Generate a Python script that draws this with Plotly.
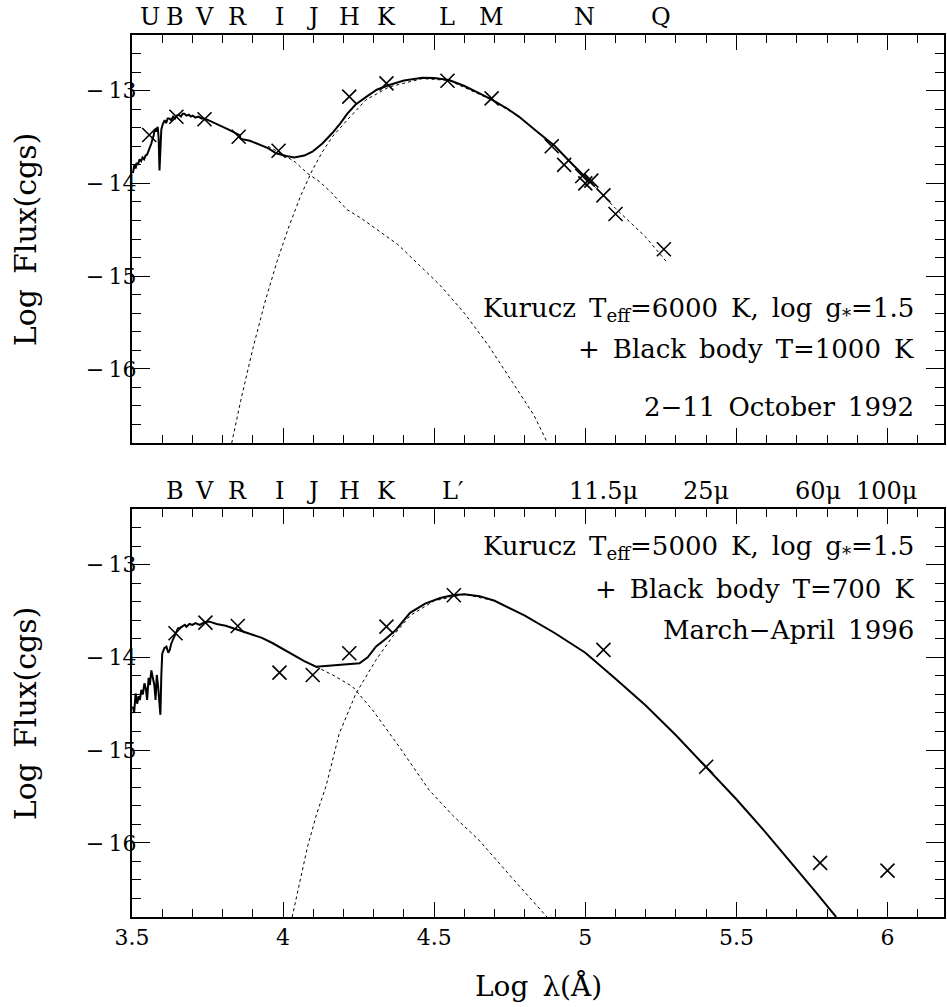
import plotly.graph_objects as go

# ---------------- data ----------------
# Top panel: 2-11 October 1992
top_obs_x = [3.557, 3.647, 3.740, 3.853, 3.985, 4.219, 4.342, 4.544, 4.690,
             4.889, 4.93, 4.99, 5.0, 5.02, 5.06, 5.1, 5.26]
top_obs_y = [-13.478, -13.281, -13.309, -13.497, -13.648, -13.065, -12.921,
             -12.893, -13.083, -13.6, -13.8, -13.92, -14.0, -13.97, -14.13,
             -14.33, -14.71]

top_tot_x = [3.503, 3.508, 3.512, 3.515, 3.52, 3.525, 3.53, 3.535, 3.54, 3.545,
             3.55, 3.555, 3.56, 3.564, 3.568, 3.572, 3.575, 3.58, 3.585, 3.588,
             3.591, 3.594, 3.597, 3.602, 3.608, 3.613, 3.618, 3.624, 3.63, 3.636,
             3.642, 3.647, 3.655, 3.662, 3.668, 3.674, 3.68, 3.688, 3.695, 3.701,
             3.71, 3.72, 3.73, 3.74, 3.76, 3.79, 3.82, 3.856, 3.86, 3.89, 3.922,
             3.95, 3.977, 4.01, 4.037, 4.07, 4.097, 4.13, 4.163, 4.19, 4.212,
             4.24, 4.274, 4.31, 4.351, 4.4, 4.461, 4.5, 4.549, 4.6, 4.65, 4.692,
             4.74, 4.78, 4.84, 4.9, 4.95, 5.0, 5.03]
top_tot_y = [-13.89, -13.8, -13.84, -13.78, -13.8, -13.74, -13.76, -13.72, -13.74, -13.7,
             -13.69, -13.65, -13.6, -13.57, -13.52, -13.48, -13.42, -13.44, -13.39, -13.5,
             -13.86, -13.6, -13.42, -13.36, -13.32, -13.35, -13.3, -13.3, -13.32, -13.28,
             -13.3, -13.27, -13.26, -13.28, -13.25, -13.25, -13.27, -13.26, -13.28, -13.27,
             -13.29, -13.28, -13.3, -13.3, -13.33, -13.37, -13.42, -13.48, -13.52, -13.54, -13.586,
             -13.62, -13.676, -13.705, -13.72, -13.7, -13.658, -13.57, -13.457, -13.35, -13.25,
             -13.15, -13.07, -12.99, -12.94, -12.89, -12.86, -12.865, -12.885, -12.95, -13.03, -13.1,
             -13.19, -13.28, -13.44, -13.6, -13.77, -13.93, -14.03]

top_kur_x = [3.95, 3.99, 4.04, 4.08, 4.12, 4.16, 4.21, 4.26, 4.32, 4.38, 4.45,
             4.52, 4.6, 4.68, 4.76, 4.83, 4.875]
top_kur_y = [-13.6, -13.67, -13.77, -13.89, -13.98, -14.1, -14.28, -14.38, -14.52,
             -14.66, -14.88, -15.1, -15.4, -15.75, -16.15, -16.5, -16.8]

top_bb_x = [3.83, 3.86, 3.9, 3.94, 3.98, 4.021, 4.06, 4.097, 4.13, 4.163, 4.212,
            4.274, 4.351, 4.461, 4.549, 4.69, 4.78, 4.9, 5.0, 5.1, 5.2, 5.27]
top_bb_y = [-16.8, -16.34, -15.78, -15.28, -14.84, -14.449, -14.12, -13.856, -13.66,
            -13.497, -13.317, -13.1, -12.96, -12.87, -12.89, -13.1, -13.28, -13.6,
            -13.93, -14.27, -14.58, -14.85]

# Bottom panel: March-April 1996
bot_obs_x = [3.644, 3.743, 3.85, 3.988, 4.098, 4.219, 4.342, 4.565, 5.06, 5.4, 5.777, 6.0]
bot_obs_y = [-13.74, -13.626, -13.662, -14.165, -14.19, -13.956, -13.669, -13.33,
             -13.92, -15.18, -16.217, -16.30]

bot_tot_x = [3.503, 3.507, 3.512, 3.517, 3.522, 3.526, 3.531, 3.536, 3.541, 3.546,
             3.55, 3.555, 3.559, 3.564, 3.569, 3.574, 3.578, 3.582, 3.586, 3.59,
             3.594, 3.597, 3.6, 3.607, 3.614, 3.62, 3.625, 3.63, 3.635, 3.642,
             3.652, 3.66, 3.668, 3.675, 3.68, 3.69, 3.7, 3.71, 3.724, 3.74, 3.757,
             3.78, 3.81, 3.834, 3.86, 3.889, 3.93, 3.966, 4.0, 4.032, 4.07, 4.109,
             4.15, 4.2, 4.253, 4.28, 4.307, 4.34, 4.373, 4.42, 4.47, 4.52, 4.56,
             4.6, 4.65, 4.7, 4.8, 4.9, 5.0, 5.1, 5.2, 5.3, 5.4, 5.5, 5.6, 5.7,
             5.76, 5.8, 5.83]
bot_tot_y = [-14.53, -14.6, -14.39, -14.5, -14.42, -14.46, -14.35, -14.4, -14.28, -14.34,
             -14.46, -14.22, -14.3, -14.14, -14.22, -14.3, -14.46, -14.19, -14.3, -14.5,
             -14.62, -14.2, -13.96, -13.9, -13.885, -13.95, -13.92, -13.85, -13.81, -13.76,
             -13.686, -13.68, -13.66, -13.65, -13.67, -13.64, -13.65, -13.63, -13.65, -13.62, -13.615,
             -13.64, -13.66, -13.686, -13.71, -13.74, -13.79, -13.848, -13.91, -13.974, -14.04, -14.1,
             -14.09, -14.08, -14.064, -14.0, -13.885, -13.8, -13.705, -13.52, -13.42, -13.36, -13.33,
             -13.32, -13.34, -13.39, -13.55, -13.74, -13.95, -14.23, -14.52, -14.84, -15.18, -15.53,
             -15.9, -16.28, -16.52, -16.68, -16.8]

bot_kur_x = [4.109, 4.17, 4.23, 4.296, 4.384, 4.483, 4.56, 4.648, 4.75, 4.873]
bot_kur_y = [-14.1, -14.2, -14.316, -14.567, -14.963, -15.43, -15.7, -15.97, -16.35, -16.8]

bot_bb_x = [4.03, 4.06, 4.081, 4.11, 4.142, 4.186, 4.241, 4.307, 4.362, 4.42, 4.5,
            4.6, 4.7, 4.8, 4.9, 5.0, 5.1, 5.2, 5.3]
bot_bb_y = [-16.8, -16.35, -16.04, -15.7, -15.39, -14.82, -14.39, -14.03, -13.777,
            -13.55, -13.39, -13.32, -13.39, -13.55, -13.74, -13.95, -14.23, -14.52, -14.84]

x_ticks = [3.5, 4, 4.5, 5, 5.5, 6]
x_ticktext = ["3.5", "4", "4.5", "5", "5.5", "6"]
y_ticks = [-13, -14, -15, -16]
y_ticktext = ["\u2212\u200a\u200a13", "\u2212\u200a\u200a14", "\u2212\u200a\u200a15",
              "\u2212\u200a\u200a16"]

top_bands = ["U", "B", "V", "R", "I", "J", "H", "K", "L", "M", "N", "Q"]
top_band_x = [3.558, 3.641, 3.740, 3.849, 3.988, 4.097, 4.219, 4.341, 4.543, 4.691, 4.998, 5.249]
bot_bands = ["B", "V", "R", "I", "J", "H", "K", "L\u2032", "11.5\u03bc", "25\u03bc", "60\u03bc", "100\u03bc"]
bot_band_x = [3.641, 3.740, 3.849, 3.988, 4.097, 4.219, 4.341, 4.559, 5.061, 5.398, 5.771, 5.996]

# ---------------- figure ----------------
FONT = "DejaVu Serif"
fig = go.Figure()

def add_panel(xa, ya, tot_x, tot_y, kur_x, kur_y, bb_x, bb_y, ox, oy):
    fig.add_trace(go.Scatter(x=kur_x, y=kur_y, xaxis=xa, yaxis=ya, mode="lines",
                             line=dict(color="black", width=1, dash="dot"), showlegend=False))
    fig.add_trace(go.Scatter(x=bb_x, y=bb_y, xaxis=xa, yaxis=ya, mode="lines",
                             line=dict(color="black", width=1, dash="dot"), showlegend=False))
    fig.add_trace(go.Scatter(x=tot_x, y=tot_y, xaxis=xa, yaxis=ya, mode="lines",
                             line=dict(color="black", width=2), showlegend=False))
    fig.add_trace(go.Scatter(x=ox, y=oy, xaxis=xa, yaxis=ya, mode="markers",
                             marker=dict(symbol="x-thin", size=14, color="black",
                                         line=dict(color="black", width=1.6)),
                             showlegend=False))

add_panel("x", "y", top_tot_x, top_tot_y, top_kur_x, top_kur_y, top_bb_x, top_bb_y,
          top_obs_x, top_obs_y)
add_panel("x2", "y2", bot_tot_x, bot_tot_y, bot_kur_x, bot_kur_y, bot_bb_x, bot_bb_y,
          bot_obs_x, bot_obs_y)

XR = [3.5, 6.187]
YR = [-16.8, -12.4]
axis_common = dict(showgrid=False, zeroline=False, showline=True, linecolor="black",
                   linewidth=2, mirror="allticks", ticks="inside", tickcolor="black",
                   tickwidth=1.3, tickfont=dict(family=FONT, size=22, color="black"))

fig.update_layout(
    width=947, height=1007,
    margin=dict(l=132, r=1, t=35, b=90),
    plot_bgcolor="white", paper_bgcolor="white",
    xaxis=dict(domain=[0, 1], anchor="y", range=XR, tickvals=x_ticks, ticktext=x_ticktext,
               showticklabels=False, ticklen=15,
               minor=dict(dtick=0.1, ticklen=8, tickcolor="black", tickwidth=1.3, ticks="inside"),
               **axis_common),
    yaxis=dict(domain=[0.5374, 1.0], anchor="x", range=YR, tickvals=y_ticks,
               ticktext=y_ticktext, ticklen=18, ticklabelstandoff=-11,
               minor=dict(dtick=0.2, ticklen=9, tickcolor="black", tickwidth=1.3, ticks="inside"),
               **axis_common),
    xaxis2=dict(domain=[0, 1], anchor="y2", range=XR, tickvals=x_ticks, ticktext=x_ticktext,
                ticklen=15,
                minor=dict(dtick=0.1, ticklen=8, tickcolor="black", tickwidth=1.3, ticks="inside"),
                **axis_common),
    yaxis2=dict(domain=[0.0, 0.4626], anchor="x2", range=YR, tickvals=y_ticks,
                ticktext=y_ticktext, ticklen=18, ticklabelstandoff=-11,
                minor=dict(dtick=0.2, ticklen=9, tickcolor="black", tickwidth=1.3, ticks="inside"),
                **axis_common),
)

ann = []
band_font = dict(family=FONT, size=24, color="black")
for lab, bx in zip(top_bands, top_band_x):
    ann.append(dict(x=bx, y=(917 - 17) / 882, xref="x", yref="paper", text=lab,
                    showarrow=False, xanchor="center", yanchor="middle", font=band_font))
for lab, bx in zip(bot_bands, bot_band_x):
    ann.append(dict(x=bx, y=(917 - 491) / 882, xref="x2", yref="paper", text=lab,
                    showarrow=False, xanchor="center", yanchor="middle", font=band_font))

txt_font = dict(family=FONT, size=26, color="black")
right_x = (918 - 132) / 814
def pos(p):
    return (917 - p) / 882

SP = "\u2002"
for t, p in [(f"Kurucz{SP}T<sub>eff</sub>=6000{SP}K,{SP}log{SP}g<sub>*</sub>=1.5", 309),
             (f"+{SP}Black{SP}body{SP}T=1000{SP}K", 349),
             (f"2\u221211{SP}October{SP}1992", 407),
             (f"Kurucz{SP}T<sub>eff</sub>=5000{SP}K,{SP}log{SP}g<sub>*</sub>=1.5", 547),
             (f"+{SP}Black{SP}body{SP}T=700{SP}K", 589),
             (f"March\u2212April{SP}1996", 630)]:
    ann.append(dict(x=right_x, y=pos(p), xref="paper", yref="paper", text=t,
                    showarrow=False, xanchor="right", yanchor="middle", font=txt_font))

for p in [239, 713]:
    ann.append(dict(x=-0.1315, y=pos(p), xref="paper", yref="paper",
                    text=f"Log{SP}Flux(cgs)",
                    showarrow=False, textangle=-90, xanchor="center", yanchor="middle",
                    font=dict(family=FONT, size=30, color="black")))
ann.append(dict(x=0.5, y=pos(986), xref="paper", yref="paper",
                text=f"Log{SP}\u03bb(\u00c5)", showarrow=False, xanchor="center",
                yanchor="middle", font=dict(family=FONT, size=28, color="black")))

fig.update_layout(annotations=ann)
fig.write_html("out.html")
